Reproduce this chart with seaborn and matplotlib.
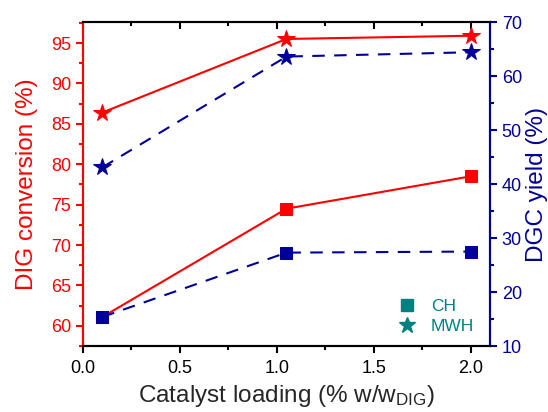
import matplotlib
matplotlib.use("Agg")
import matplotlib.pyplot as plt
from matplotlib.lines import Line2D
from matplotlib.ticker import MultipleLocator
import seaborn as sns
import pandas as pd

# ---- data ----
loading = [0.1, 1.05, 2.0]
dig_conv_mwh = [86.4, 95.5, 95.9]
dig_conv_ch = [61.1, 74.5, 78.5]
dgc_yield_mwh = [43.1, 63.6, 64.4]
dgc_yield_ch = [15.4, 27.3, 27.5]
legend_labels = ["CH", "MWH"]

RED = "#FF0000"
BLUE = "#000099"
TEAL = "#008080"

sns.set_style("white")
plt.rcParams["font.family"] = ["Liberation Sans", "DejaVu Sans"]
plt.rcParams["mathtext.default"] = "regular"

fig = plt.figure(figsize=(5.48, 4.12), dpi=100)
ax = fig.add_axes([0.1515, 0.160, 0.894 - 0.1515, 0.9466 - 0.160])
ax2 = ax.twinx()

df_l = pd.DataFrame({"x": loading * 2,
                     "y": dig_conv_mwh + dig_conv_ch,
                     "s": ["MWH"] * 3 + ["CH"] * 3})
df_r = pd.DataFrame({"x": loading * 2,
                     "y": dgc_yield_mwh + dgc_yield_ch,
                     "s": ["MWH"] * 3 + ["CH"] * 3})

for name, mk, ms in [("MWH", "*", 13), ("CH", "s", 8)]:
    d = df_l[df_l.s == name]
    sns.lineplot(data=d, x="x", y="y", ax=ax, color=RED, lw=1.5,
                 marker=mk, markersize=ms, markeredgecolor=RED, legend=False)
    d = df_r[df_r.s == name]
    sns.lineplot(data=d, x="x", y="y", ax=ax2, color=BLUE, lw=1.5,
                 marker=mk, markersize=ms, markeredgecolor=BLUE,
                 dashes=False, legend=False)
for ln in ax2.lines:
    ln.set_linestyle((0, (6, 4.5)))

ax.set_xlim(0, 2.1)
ax.set_ylim(57.5, 97.6)
ax2.set_ylim(10, 70)

ax.xaxis.set_major_locator(MultipleLocator(0.5))
ax.xaxis.set_minor_locator(MultipleLocator(0.25))
ax.yaxis.set_major_locator(MultipleLocator(5))
ax.yaxis.set_minor_locator(MultipleLocator(2.5))
ax2.yaxis.set_major_locator(MultipleLocator(10))
ax2.yaxis.set_minor_locator(MultipleLocator(5))

for a in (ax, ax2):
    for s in a.spines.values():
        s.set_linewidth(1.5)
        s.set_visible(True)
    a.spines["left"].set_color(RED)
    a.spines["right"].set_color(BLUE)
    a.spines["top"].set_color("black")
    a.spines["bottom"].set_color("black")

ax.tick_params(axis="x", which="both", bottom=True, top=True, direction="out",
               labelsize=13, colors="black", width=1.5, pad=5)
ax.tick_params(axis="x", which="major", length=5)
ax.tick_params(axis="x", which="minor", length=3)
ax.tick_params(axis="y", which="both", left=True, right=False, direction="out",
               labelsize=13, colors=RED, width=1.5)
ax.tick_params(axis="y", which="major", length=5)
ax.tick_params(axis="y", which="minor", length=3)
ax2.tick_params(axis="y", which="both", right=True, left=False, direction="out",
                labelsize=13, colors=BLUE, width=1.5)
ax2.tick_params(axis="y", which="major", length=5)
ax2.tick_params(axis="y", which="minor", length=3)
# top ticks point inward
for t in ax.xaxis.get_major_ticks() + ax.xaxis.get_minor_ticks():
    t.tick2line.set_marker(3)

ax.set_xlabel("Catalyst loading (% w/w$_{DIG}$)", fontsize=17.5, labelpad=4)
ax.set_ylabel("DIG conversion (%)", fontsize=17.5, color=RED, labelpad=9)
ax2.set_ylabel("DGC yield (%)", fontsize=17.5, color=BLUE, labelpad=3)

handles = [Line2D([], [], ls="none", marker="s", ms=8, color=TEAL),
           Line2D([], [], ls="none", marker="*", ms=12, color=TEAL)]
leg = ax2.legend(handles, legend_labels, loc="lower right", frameon=False,
                 fontsize=12.5, bbox_to_anchor=(1.0, -0.012), handletextpad=0.4,
                 labelspacing=0.3)
for t in leg.get_texts():
    t.set_color(TEAL)

fig.savefig("out.png", dpi=100)
